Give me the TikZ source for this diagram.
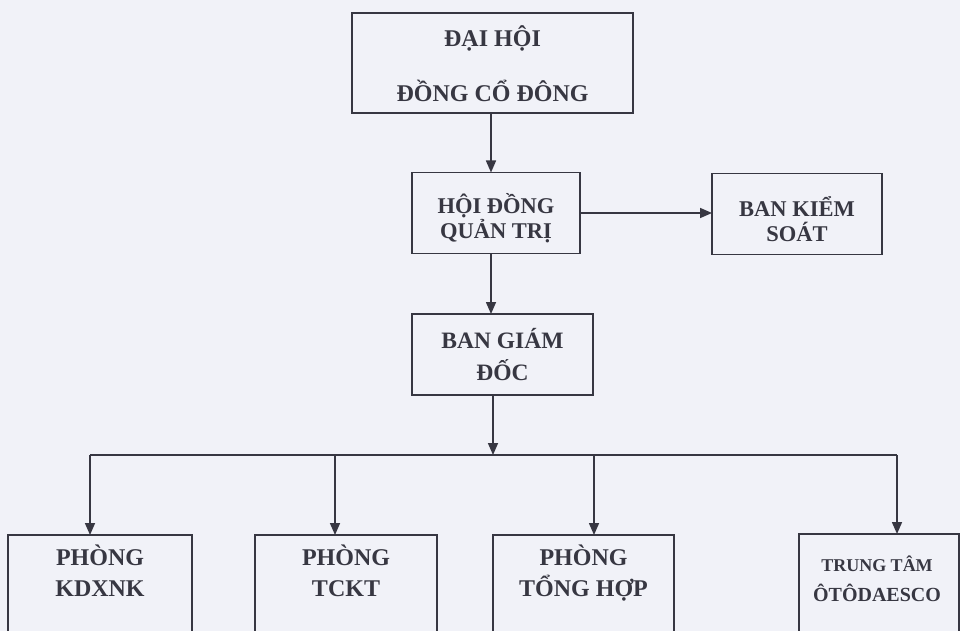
\documentclass[tikz,border=0pt]{standalone}
\usepackage{fontspec}
\setmainfont{Liberation Serif}
\usetikzlibrary{arrows.meta}
\definecolor{paper}{RGB}{241,242,248}
\definecolor{ink}{RGB}{55,55,66}
\tikzset{
  x=1pt, y=1pt,
  box/.style={draw=ink, line width=1.6pt, rectangle, inner sep=0pt, outer sep=0pt},
  lbl/.style={text=ink, font=\bfseries, align=center, inner sep=0pt},
  link/.style={draw=ink, line width=1.6pt},
  arr/.style={link, -{Triangle[length=12pt,width=10pt]}},
}
\begin{document}
\begin{tikzpicture}
\clip (0,0) rectangle (960,-631);
\fill[paper] (0,0) rectangle (960,-631);

% top three boxes
\node[box, minimum width=281pt, minimum height=100pt] (dh) at (492.5,-63) {};
\node[lbl, font=\fontsize{24}{55}\selectfont\bfseries, yshift=-1pt] at (dh.center) {ĐẠI HỘI\\ĐỒNG CỔ ĐÔNG};

\node[box, minimum width=168pt, minimum height=81pt] (hd) at (496,-213) {};
\node[lbl, font=\fontsize{22.5}{25}\selectfont\bfseries, yshift=-5pt] at (hd.center) {HỘI ĐỒNG\\QUẢN TRỊ};

\node[box, minimum width=170pt, minimum height=81pt] (bks) at (797,-214) {};
\node[lbl, font=\fontsize{22.5}{25}\selectfont\bfseries, yshift=-5pt] at (bks.center) {BAN KIỂM\\SOÁT};

\node[box, minimum width=181pt, minimum height=81pt] (bgd) at (502.5,-354.5) {};
\node[lbl, font=\fontsize{23.5}{32}\selectfont\bfseries] at (bgd.center) {BAN GIÁM\\ĐỐC};

% bottom boxes (cut by the page edge)
\node[box, minimum width=184pt, minimum height=140pt, anchor=north] (kd) at (100,-535) {};
\node[lbl, font=\fontsize{24}{31}\selectfont\bfseries, anchor=north] at ([yshift=-10pt]kd.north) {PHÒNG\\KDXNK};

\node[box, minimum width=182pt, minimum height=140pt, anchor=north] (tc) at (346,-535) {};
\node[lbl, font=\fontsize{24}{31}\selectfont\bfseries, anchor=north] at ([yshift=-10pt]tc.north) {PHÒNG\\TCKT};

\node[box, minimum width=181pt, minimum height=140pt, anchor=north] (th) at (583.5,-535) {};
\node[lbl, font=\fontsize{24}{31}\selectfont\bfseries, anchor=north] at ([yshift=-10pt]th.north) {PHÒNG\\TỔNG HỢP};

\node[box, minimum width=160pt, minimum height=140pt, anchor=north] (tt) at (879,-534) {};
\node[lbl, font=\fontsize{20}{30}\selectfont\bfseries, anchor=north] at ([xshift=-2pt,yshift=-22pt]tt.north) {{\fontsize{18}{30}\selectfont TRUNG TÂM}\\ÔTÔDAESCO};

% connectors
\coordinate (c1) at (491,0);
\coordinate (c3) at (493,0);
\coordinate (bus) at (493,-455);
\coordinate (d1) at (90,-455);
\coordinate (d2) at (335,-455);
\coordinate (d3) at (594,-455);
\coordinate (d4) at (897,-455);

\draw[arr] (dh.south -| c1) -- (hd.north -| c1);
\draw[arr] (hd.east) -- (bks.west |- hd.east);
\draw[arr] (hd.south -| c1) -- (bgd.north -| c1);
\draw[arr] (bgd.south -| c3) -- (bus);
\draw[link] (d1) -- (d4);
\draw[arr] (d1) -- (d1 |- kd.north);
\draw[arr] (d2) -- (d2 |- tc.north);
\draw[arr] (d3) -- (d3 |- th.north);
\draw[arr] (d4) -- (d4 |- tt.north);
\end{tikzpicture}
\end{document}
